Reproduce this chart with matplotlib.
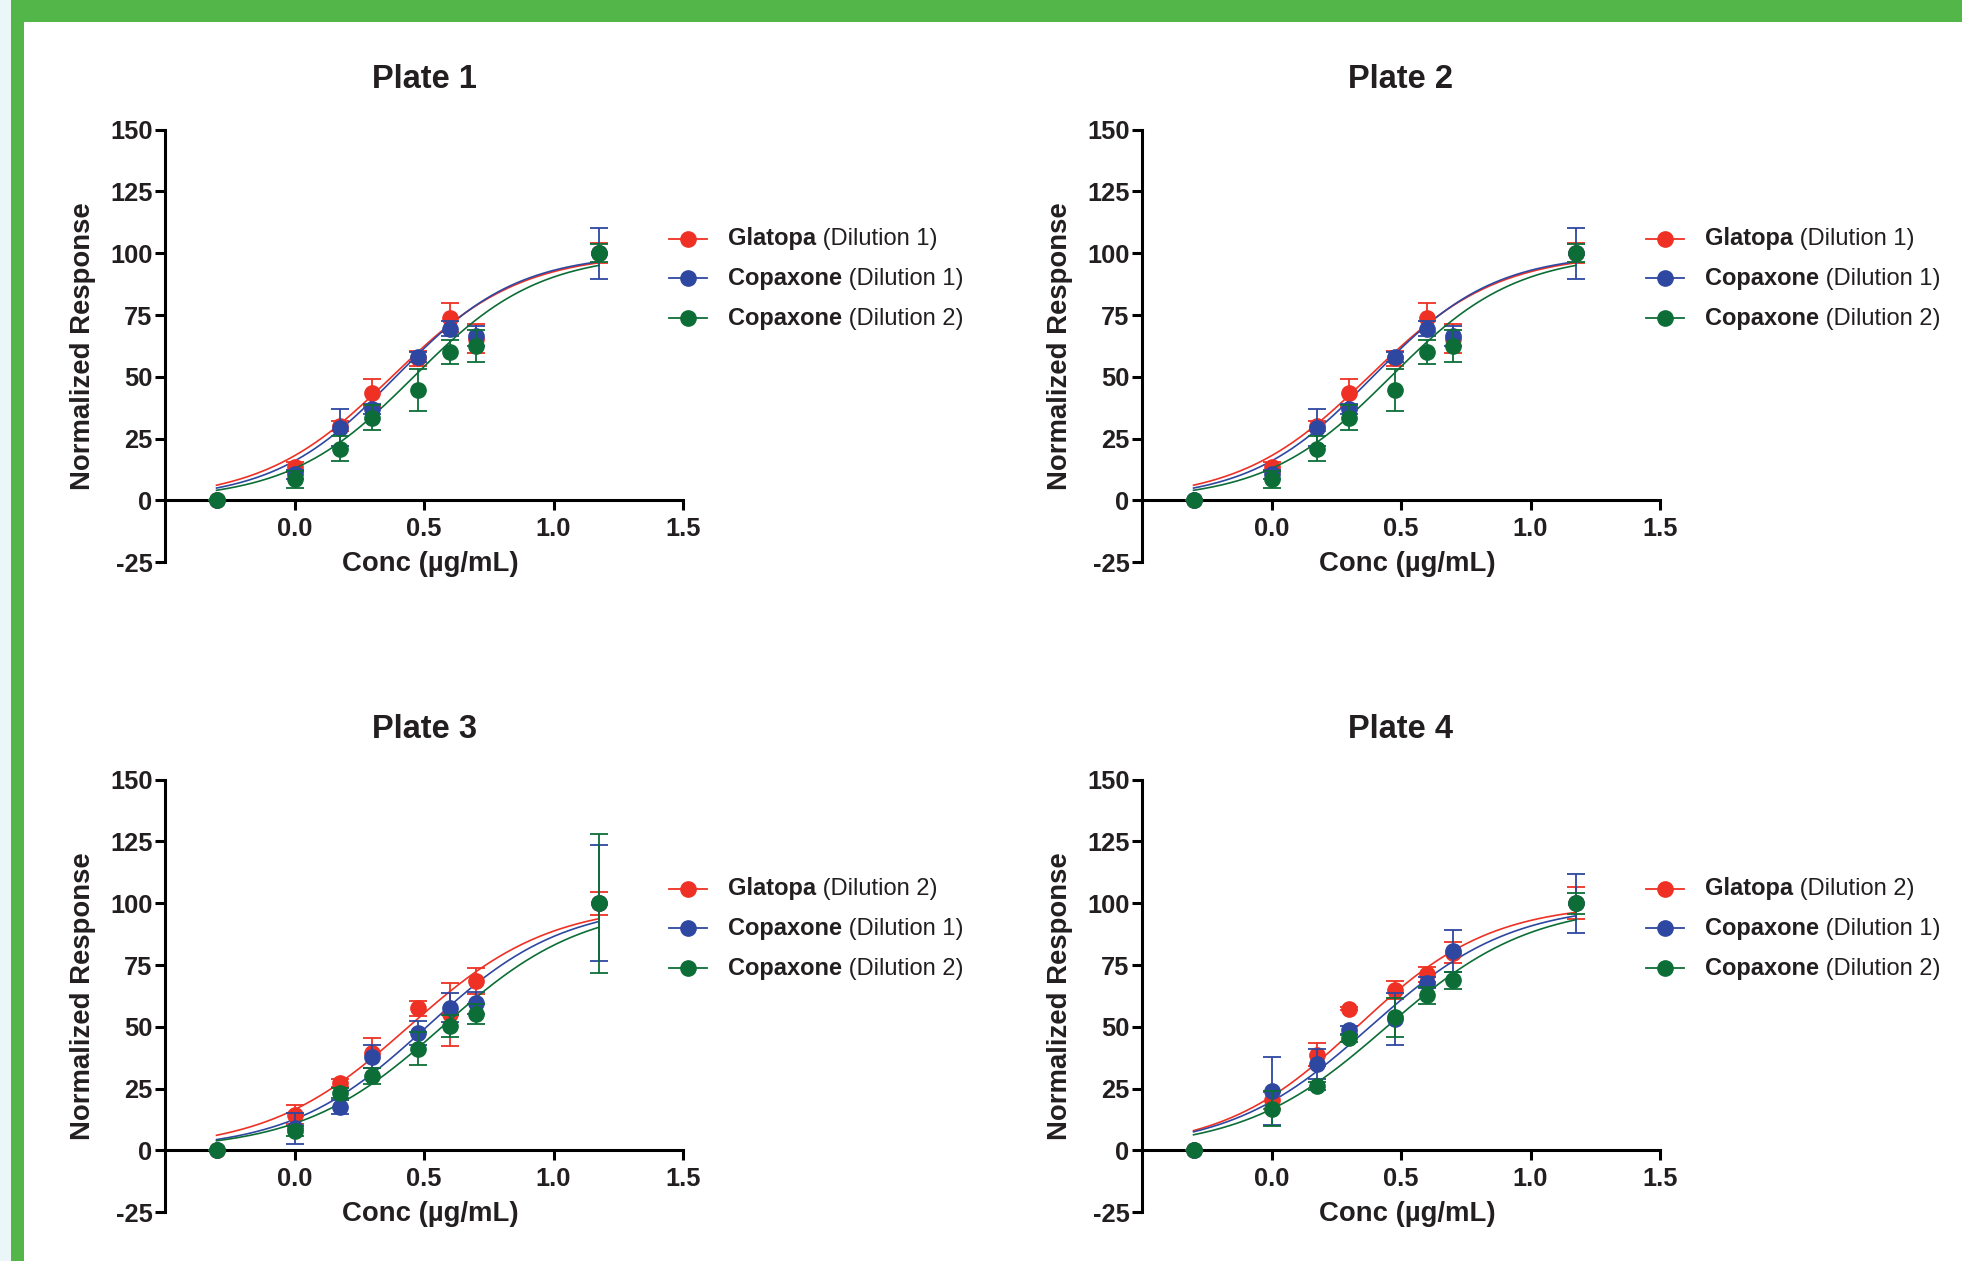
import numpy as np
import matplotlib
matplotlib.use("Agg")
from matplotlib import pyplot as plt
from matplotlib.patches import Rectangle

plt.rcParams['font.family'] = ['Liberation Sans', 'DejaVu Sans']
plt.rcParams['font.weight'] = 'bold'
plt.rcParams['axes.unicode_minus'] = False

# log10 concentration (ug/mL)
log_conc = [-0.301, 0.0, 0.176, 0.301, 0.477, 0.602, 0.699, 1.176]

plate_titles = ["Plate 1", "Plate 2", "Plate 3", "Plate 4"]

names = ["Glatopa", "Copaxone", "Copaxone"]
dil_12 = [" (Dilution 1)", " (Dilution 1)", " (Dilution 2)"]
dil_34 = [" (Dilution 2)", " (Dilution 1)", " (Dilution 2)"]

# plate 1 (plate 2 shows the same values)
p1_red = [0, 13.5, 30.0, 43.5, 57.5, 74.0, 65.5, 100]
p1_red_err = [0, 2.0, 2.0, 5.5, 3.0, 6.0, 6.0, 4.0]
p1_blue = [0, 10.5, 29.5, 37.0, 58.0, 69.5, 66.5, 100]
p1_blue_err = [0, 2.0, 7.5, 2.0, 2.0, 3.0, 4.0, 10.3]
p1_green = [0, 8.5, 21.0, 33.5, 44.5, 60.0, 62.5, 100]
p1_green_err = [0, 3.3, 5.2, 5.2, 8.5, 5.0, 6.5, 3.6]

p3_red = [0, 14.5, 27.3, 39.5, 57.5, 55.0, 68.7, 100]
p3_red_err = [0, 4.0, 1.5, 6.0, 3.0, 12.7, 5.3, 4.7]
p3_blue = [0, 9.0, 17.6, 38.0, 47.5, 57.8, 59.6, 100]
p3_blue_err = [0, 6.3, 2.7, 4.5, 4.7, 6.0, 4.3, 23.5]
p3_green = [0, 7.8, 23.3, 30.0, 41.2, 50.2, 55.3, 100]
p3_green_err = [0, 2.0, 2.0, 3.3, 6.7, 4.5, 4.0, 28.2]

p4_red = [0, 20.2, 38.7, 57.4, 64.8, 71.3, 80.0, 100]
p4_red_err = [0, 3.5, 4.6, 0.5, 3.7, 3.0, 4.2, 6.4]
p4_blue = [0, 23.9, 35.0, 48.7, 53.1, 67.9, 80.7, 100]
p4_blue_err = [0, 13.8, 6.0, 1.5, 10.4, 2.3, 8.6, 12.0]
p4_green = [0, 16.8, 26.0, 45.3, 53.8, 62.8, 68.9, 100]
p4_green_err = [0, 7.1, 1.5, 1.5, 7.9, 3.5, 3.4, 4.3]

# fitted curves: normalized response, variable slope (logEC50, hill)
p1_fit = [(0.375, 1.75), (0.39, 1.85), (0.46, 1.8)]
p3_fit = [(0.44, 1.6), (0.51, 1.65), (0.57, 1.6)]
p4_fit = [(0.33, 1.68), (0.38, 1.6), (0.445, 1.57)]

colors = ["#EE3124", "#2E47A0", "#0C6E36"]
ink = "#231F20"

plates = [
    ([p1_red, p1_blue, p1_green], [p1_red_err, p1_blue_err, p1_green_err], p1_fit, dil_12),
    ([p1_red, p1_blue, p1_green], [p1_red_err, p1_blue_err, p1_green_err], p1_fit, dil_12),
    ([p3_red, p3_blue, p3_green], [p3_red_err, p3_blue_err, p3_green_err], p3_fit, dil_34),
    ([p4_red, p4_blue, p4_green], [p4_red_err, p4_blue_err, p4_green_err], p4_fit, dil_34),
]

W, H = 1962, 1261
fig = plt.figure(figsize=(W / 100, H / 100), dpi=100)
fig.patch.set_facecolor("white")

# frame
fig.add_artist(Rectangle((0, 0), 11 / W, 1, transform=fig.transFigure, color="#EAF6F8", lw=0))
fig.add_artist(Rectangle((11 / W, 0), 13 / W, 1, transform=fig.transFigure, color="#52B748", lw=0))
fig.add_artist(Rectangle((11 / W, 1 - 22 / H), 1, 22 / H, transform=fig.transFigure, color="#52B748", lw=0))

lefts = [165, 1142, 165, 1142]
bottoms = [562.2, 562.2, 1212.2, 1212.2]
aw, ah = 518, 432.5

xs = np.linspace(log_conc[0], log_conc[-1], 300)

for k in range(4):
    means, errs, fits, dils = plates[k]
    ax = fig.add_axes([lefts[k] / W, 1 - bottoms[k] / H, aw / W, ah / H])
    ax.set_facecolor("none")

    for i in range(3):
        ec50, hill = fits[i]
        curve = 100 / (1 + 10 ** ((ec50 - xs) * hill))
        ax.plot(xs, curve, color=colors[i], lw=1.2, zorder=2 + i)
        ax.errorbar(log_conc, means[i], yerr=errs[i], fmt="o", color=colors[i],
                    ms=11, elinewidth=1.3, capsize=6.5, capthick=1.3, zorder=3 + i,
                    clip_on=False)

    ax.set_xlim(-0.5, 1.5)
    ax.set_ylim(-25, 150)
    ax.set_xticks([0.0, 0.5, 1.0, 1.5])
    ax.set_xticklabels(["0.0", "0.5", "1.0", "1.5"])
    ax.set_yticks(np.arange(-25, 151, 25))
    ax.spines["top"].set_visible(False)
    ax.spines["right"].set_visible(False)
    ax.spines["bottom"].set_position(("data", 0))
    for s in ["left", "bottom"]:
        ax.spines[s].set_linewidth(2.2)
        ax.spines[s].set_color("black")
    ax.tick_params(direction="out", length=7, width=2.2, labelsize=18.3,
                   colors="black", labelcolor=ink, pad=2)
    ax.tick_params(axis="x", pad=5)
    for lab in ax.get_xticklabels() + ax.get_yticklabels():
        lab.set_fontweight("bold")

    ax.text(0.5, 1.115, plate_titles[k], transform=ax.transAxes, ha="center",
            va="center", fontsize=23.5, fontweight="bold", color=ink)
    ax.text(-0.158, 0.5, "Normalized Response", transform=ax.transAxes, rotation=90,
            ha="center", va="center", fontsize=19.8, fontweight="bold", color=ink)
    ax.text(0.5125, -0.005, "Conc (\u00b5g/mL)", transform=ax.transAxes, ha="center",
            va="center", fontsize=19.8, fontweight="bold", color=ink)

    # legend
    rows = [0.748, 0.656, 0.564]
    for i in range(3):
        ax.plot([0.973, 1.046], [rows[i], rows[i]], transform=ax.transAxes,
                color=colors[i], lw=1.3, clip_on=False)
        ax.plot([1.009], [rows[i]], "o", transform=ax.transAxes, color=colors[i],
                ms=11, clip_on=False)
        t = ax.text(1.087, rows[i], names[i], transform=ax.transAxes, ha="left",
                    va="center", fontsize=17, fontweight="bold", color=ink)
        ax.annotate(dils[i], xy=(1, 0), xycoords=t, ha="left", va="bottom",
                    fontsize=17, fontweight="normal", color=ink)

fig.savefig("out.png", dpi=100)
